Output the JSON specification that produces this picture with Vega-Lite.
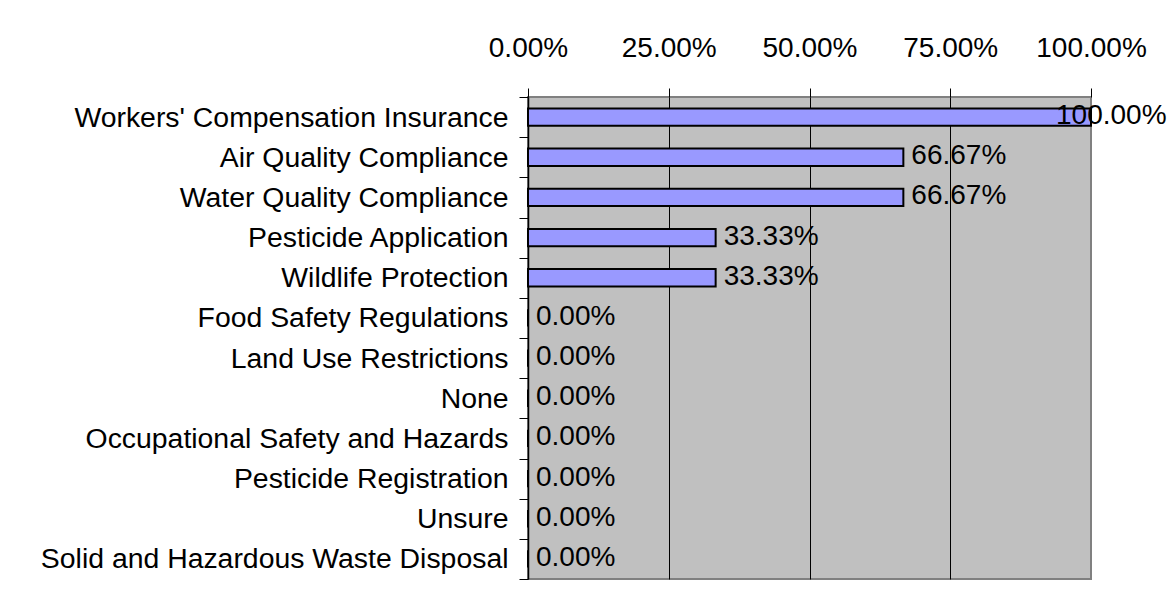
{
  "$schema": "https://vega.github.io/schema/vega-lite/v6.json",
  "autosize": "none",
  "padding": {"left": 528, "top": 97, "right": 81, "bottom": 15},
  "width": 563,
  "height": 482,
  "background": "white",
  "config": {
    "font": "Liberation Sans",
    "view": {"fill": "#C0C0C0", "stroke": "#808080", "strokeWidth": 2}
  },
  "data": {
    "values": [
      {"category": "Workers' Compensation Insurance", "pct": 1.0},
      {"category": "Air Quality Compliance", "pct": 0.6667},
      {"category": "Water Quality Compliance", "pct": 0.6667},
      {"category": "Pesticide Application", "pct": 0.3333},
      {"category": "Wildlife Protection", "pct": 0.3333},
      {"category": "Food Safety Regulations", "pct": 0.0},
      {"category": "Land Use Restrictions", "pct": 0.0},
      {"category": "None", "pct": 0.0},
      {"category": "Occupational Safety and Hazards", "pct": 0.0},
      {"category": "Pesticide Registration", "pct": 0.0},
      {"category": "Unsure", "pct": 0.0},
      {"category": "Solid and Hazardous Waste Disposal", "pct": 0.0}
    ]
  },
  "encoding": {
    "y": {
      "field": "category",
      "type": "nominal",
      "sort": null,
      "scale": {"paddingInner": 0, "paddingOuter": 0},
      "axis": {
        "title": null,
        "orient": "left",
        "labelFontSize": 28.4,
        "labelColor": "black",
        "labelLimit": 0,
        "labelPadding": 11,
        "tickBand": "extent",
        "tickSize": 9,
        "tickColor": "black",
        "tickWidth": 1,
        "domainColor": "black",
        "domainWidth": 1.5,
        "grid": false
      }
    },
    "x": {
      "field": "pct",
      "type": "quantitative",
      "scale": {"domain": [0, 1], "nice": false},
      "axis": {
        "title": null,
        "orient": "top",
        "values": [0, 0.25, 0.5, 0.75, 1],
        "format": ".2%",
        "labelFontSize": 28,
        "labelColor": "black",
        "labelPadding": 26,
        "labelFlush": false,
        "tickSize": 9,
        "tickColor": "black",
        "tickWidth": 1,
        "domain": false,
        "grid": true,
        "gridColor": {"condition": {"test": "datum.value === 1 || datum.value === 0", "value": "#808080"}, "value": "black"},
        "gridWidth": 1,
        "gridOpacity": 1
      }
    }
  },
  "layer": [
    {
      "mark": {"type": "bar", "height": {"band": 0.43}, "fill": "#9999FF", "stroke": "black", "strokeWidth": 2}
    },
    {
      "transform": [{"filter": "datum.pct < 1"}],
      "mark": {"type": "text", "align": "left", "baseline": "middle", "dx": 8, "dy": -1, "fontSize": 28, "color": "black"},
      "encoding": {"text": {"field": "pct", "type": "quantitative", "format": ".2%"}}
    },
    {
      "transform": [{"filter": "datum.pct >= 1"}],
      "mark": {"type": "text", "align": "left", "baseline": "middle", "dx": -35, "dy": -1, "fontSize": 28, "color": "black"},
      "encoding": {"text": {"field": "pct", "type": "quantitative", "format": ".2%"}}
    }
  ]
}
